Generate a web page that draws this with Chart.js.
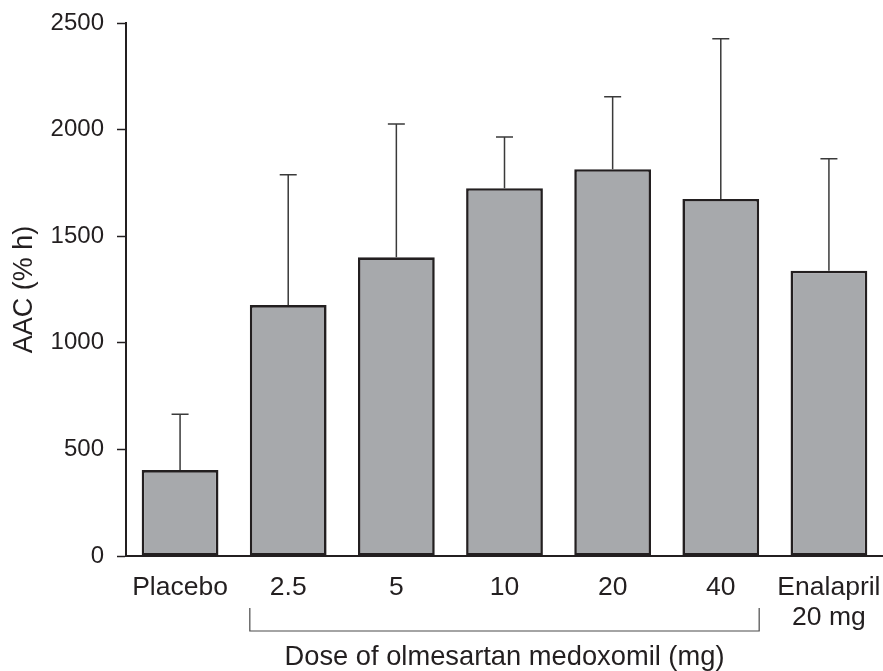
<!DOCTYPE html>
<html lang="en">
<head>
    <meta charset="UTF-8">
    <title>AAC by dose</title>
    <script src="https://cdn.jsdelivr.net/npm/chart.js"></script>
    <style>
        body {
            margin: 0;
            background: #ffffff;
        }
        #wrap {
            width: 883px;
            height: 671px;
            position: relative;
        }
    </style>
</head>
<body>
    <div id="wrap">
        <canvas id="aacChart"></canvas>
    </div>

    <script>
        // données
        const categories = ['Placebo', '2.5', '5', '10', '20', '40', ['Enalapril', '20 mg']];
        const meanValues = [403, 1177, 1401, 1725, 1814, 1675, 1338];
        const sdValues = [262, 611, 625, 240, 340, 751, 525];
        const yTicks = [0, 500, 1000, 1500, 2000, 2500];
        const doseGroup = [1, 5]; // indices covered by the bracket

        const ink = '#231f20';
        const fontFamily = "'Liberation Sans', Arial, sans-serif";

        // error bars (upper only) + bracket under the dose labels
        const extrasPlugin = {
            id: 'extras',
            afterDatasetsDraw(chart) {
                const ctx = chart.ctx;
                const yScale = chart.scales.y;
                const bars = chart.getDatasetMeta(0).data;
                ctx.save();
                ctx.strokeStyle = '#3a3a3a';
                ctx.lineWidth = 1.5;
                bars.forEach((bar, i) => {
                    const top = yScale.getPixelForValue(meanValues[i] + sdValues[i]);
                    ctx.beginPath();
                    ctx.moveTo(bar.x, bar.y);
                    ctx.lineTo(bar.x, top);
                    ctx.moveTo(bar.x - 8.5, top);
                    ctx.lineTo(bar.x + 8.5, top);
                    ctx.stroke();
                });

                const first = bars[doseGroup[0]];
                const last = bars[doseGroup[1]];
                const x1 = first.x - first.width / 2;
                const x2 = last.x + last.width / 2;
                const yb = chart.chartArea.bottom;
                ctx.strokeStyle = '#4a4a4a';
                ctx.lineWidth = 1.2;
                ctx.beginPath();
                ctx.moveTo(x1, yb + 52);
                ctx.lineTo(x1, yb + 75);
                ctx.lineTo(x2, yb + 75);
                ctx.lineTo(x2, yb + 52);
                ctx.stroke();
                ctx.restore();
            }
        };

        new Chart(document.getElementById('aacChart'), {
            type: 'bar',
            data: {
                labels: categories,
                datasets: [{
                    data: meanValues,
                    backgroundColor: '#a7a9ac',
                    borderColor: ink,
                    borderWidth: 2.6,
                    borderSkipped: false,
                    barPercentage: 0.71,
                    categoryPercentage: 1
                }]
            },
            options: {
                responsive: true,
                maintainAspectRatio: false,
                animation: false,
                layout: {
                    padding: { top: 23, right: 0, bottom: 0, left: 0 }
                },
                plugins: {
                    legend: { display: false },
                    tooltip: { enabled: false }
                },
                scales: {
                    x: {
                        afterFit(scale) {
                            scale.height = 115;
                            scale.paddingLeft = 0;
                            scale.paddingRight = 0;
                        },
                        grid: { display: false },
                        border: { display: true, color: ink, width: 2 },
                        ticks: {
                            color: ink,
                            padding: 9,
                            maxRotation: 0,
                            autoSkip: false,
                            font: { family: fontFamily, size: 26.5, lineHeight: 1.13 }
                        },
                        title: {
                            display: true,
                            text: 'Dose of olmesartan medoxomil (mg)',
                            color: ink,
                            padding: 0,
                            font: { family: fontFamily, size: 27.3, lineHeight: 1 }
                        }
                    },
                    y: {
                        min: 0,
                        max: 2500,
                        afterFit(scale) {
                            scale.width = 126;
                            scale.paddingTop = 0;
                            scale.paddingBottom = 0;
                        },
                        afterBuildTicks(scale) {
                            scale.ticks = yTicks.map(v => ({ value: v }));
                        },
                        grid: {
                            display: true,
                            drawOnChartArea: false,
                            drawTicks: true,
                            tickLength: 9,
                            tickColor: ink,
                            tickWidth: 1.5
                        },
                        border: { display: true, color: ink, width: 2 },
                        ticks: {
                            color: ink,
                            padding: 13,
                            callback: value => String(value),
                            font: { family: fontFamily, size: 24 }
                        },
                        title: {
                            display: true,
                            text: 'AAC (% h)',
                            color: ink,
                            padding: 11,
                            font: { family: fontFamily, size: 27, lineHeight: 1 }
                        }
                    }
                }
            },
            plugins: [extrasPlugin]
        });
    </script>
</body>
</html>
